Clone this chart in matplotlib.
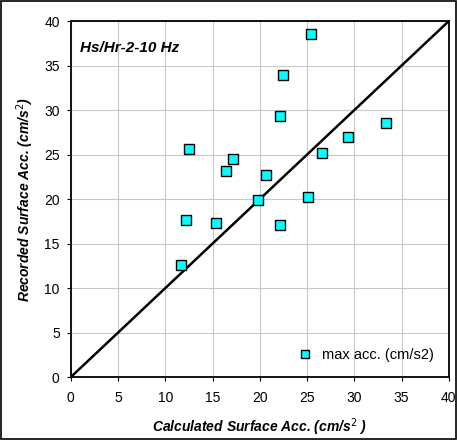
import matplotlib.pyplot as plt
from matplotlib.patches import Rectangle

plt.rcParams['font.family'] = ['Liberation Sans', 'DejaVu Sans']

# valores
calc = [11.7, 12.2, 12.5, 15.4, 16.4, 17.2, 19.8, 20.7, 22.1, 22.1, 22.5, 25.1, 25.4, 26.6, 29.3, 33.4]
rec = [12.6, 17.6, 25.6, 17.3, 23.2, 24.5, 19.9, 22.7, 17.1, 29.3, 34.0, 20.2, 38.6, 25.2, 27.0, 28.5]
ticks = [0, 5, 10, 15, 20, 25, 30, 35, 40]

fig = plt.figure(figsize=(4.57, 4.40), dpi=100)
ax = fig.add_axes([0.155, 0.143, 0.827, 0.809])

# moldura externa
fig.patches.append(Rectangle((0.002, 0.002), 0.996, 0.996, transform=fig.transFigure,
                             fill=False, edgecolor='black', linewidth=1.2))

ax.plot([0, 40], [0, 40], color='black', linewidth=1.8, zorder=2)
ax.plot(calc, rec, linestyle='none', marker='s', markersize=7.5,
        markerfacecolor='#00FFFF', markeredgecolor='black', markeredgewidth=1.0,
        label='max acc. (cm/s2)', zorder=3)

ax.set_xlim(0, 40)
ax.set_ylim(0, 40)
ax.set_xticks(ticks)
ax.set_yticks(ticks)
ax.tick_params(labelsize=10, length=3, direction='out')
ax.tick_params(axis='x', pad=7)
ax.tick_params(axis='y', pad=5)
ax.grid(True, color='#c8c8c8', linewidth=0.8)
ax.set_axisbelow(True)
for s in ax.spines.values():
    s.set_linewidth(1.3)

ax.set_xlabel('Calculated Surface Acc. (cm/s$^{2}$ )', fontsize=10, fontweight='bold',
              style='italic', labelpad=8)
ax.set_ylabel('Recorded Surface Acc. (cm/s$^{2}$)', fontsize=10, fontweight='bold',
              style='italic', labelpad=6)
ax.text(1.0, 37.0, 'Hs/Hr-2-10 Hz', fontsize=11, fontweight='bold', style='italic', va='center')

ax.legend(loc='lower right', frameon=False, fontsize=10.5, handletextpad=0.2,
          markerscale=0.7, borderaxespad=0.6)

plt.savefig('out.png', dpi=100)
